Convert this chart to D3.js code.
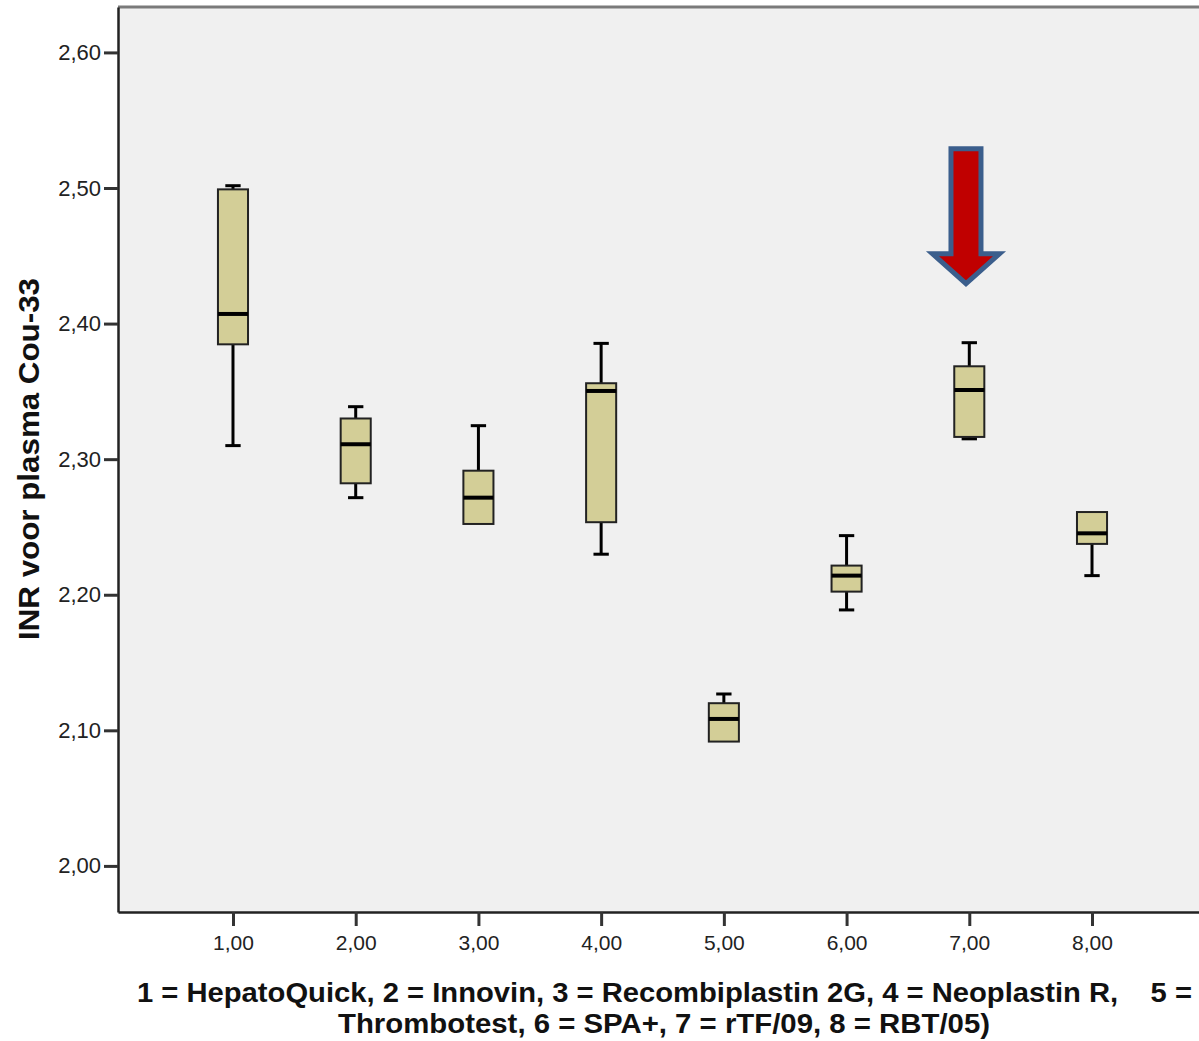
<!DOCTYPE html>
<html>
<head>
<meta charset="utf-8">
<script src="https://cdn.jsdelivr.net/npm/d3@7/dist/d3.min.js"></script>
<style>
  html, body { margin: 0; padding: 0; background: #ffffff; overflow: hidden; }
  svg { display: block; }
  .pre { white-space: pre; }
</style>
</head>
<body>
<svg id="chart" width="1199" height="1041"></svg>
<script>
// ---------------- data ----------------
const categories = [1, 2, 3, 4, 5, 6, 7, 8];
const minVals    = [2.310, 2.2716, 2.2522, 2.2299, 2.0917, 2.1888, 2.3150, 2.2141];
const q1Vals     = [2.3847, 2.2822, 2.2522, 2.2535, 2.0917, 2.2023, 2.3164, 2.2375];
const medianVals = [2.4071, 2.3110, 2.2716, 2.3503, 2.1084, 2.2141, 2.3510, 2.2453];
const q3Vals     = [2.4990, 2.3300, 2.2915, 2.3560, 2.1200, 2.2215, 2.3685, 2.2610];
const maxVals    = [2.5017, 2.3387, 2.3247, 2.3854, 2.1268, 2.2436, 2.3859, 2.2610];
const yTicks = [2.0, 2.1, 2.2, 2.3, 2.4, 2.5, 2.6];
const xTicks = [1, 2, 3, 4, 5, 6, 7, 8];
const yTitle = "INR voor plasma Cou-33";
const xTitleLines = [
  "1 = HepatoQuick, 2 = Innovin, 3 = Recombiplastin 2G, 4 = Neoplastin R,    5 =",
  "Thrombotest, 6 = SPA+, 7 = rTF/09, 8 = RBT/05)"
];
// annotation arrow (category, top value, head-base value, tip value)
const arrowCat = 6.973;
const arrowTop = 2.529, arrowHeadBase = 2.4515, arrowTip = 2.4295;

const boxes = categories.map((c, i) => ({
  cat: c, min: minVals[i], q1: q1Vals[i], med: medianVals[i], q3: q3Vals[i], max: maxVals[i]
}));

// ---------------- layout ----------------
const svg = d3.select("#chart");
const plot = { left: 118, right: 1207, top: 7, bottom: 912 };

const x = d3.scaleLinear().domain([0.063, 8.937]).range([plot.left, plot.right]);
const y = d3.scaleLinear().domain([1.966, 2.6335]).range([plot.bottom, plot.top]);
const step = x(2) - x(1);
const boxW = step * 0.245;
const capW = step * 0.125;
const fmt = v => d3.format(".2f")(v).replace(".", ",");

// plot background
svg.append("rect")
  .attr("x", plot.left).attr("y", plot.top)
  .attr("width", plot.right - plot.left).attr("height", plot.bottom - plot.top)
  .attr("fill", "#f0f0f0");

// top frame line
svg.append("line")
  .attr("x1", plot.left).attr("x2", plot.right)
  .attr("y1", plot.top).attr("y2", plot.top)
  .attr("stroke", "#7a7a7a").attr("stroke-width", 3);

// y axis
const yAxis = d3.axisLeft(y).tickValues(yTicks).tickFormat(fmt)
  .tickSizeInner(14).tickSizeOuter(0).tickPadding(3);
const gy = svg.append("g").attr("transform", `translate(${plot.left},0)`).call(yAxis);
gy.select(".domain").attr("stroke", "#222").attr("stroke-width", 2.5);
gy.selectAll(".tick line").attr("stroke", "#333").attr("stroke-width", 3);
gy.selectAll(".tick text")
  .attr("fill", "#222").attr("font-family", "Liberation Sans, Arial, sans-serif")
  .attr("font-size", 22);

// x axis
const xAxis = d3.axisBottom(x).tickValues(xTicks).tickFormat(fmt)
  .tickSizeInner(14).tickSizeOuter(0).tickPadding(9);
const gx = svg.append("g").attr("transform", `translate(0,${plot.bottom})`).call(xAxis);
gx.select(".domain").attr("stroke", "#222").attr("stroke-width", 2.5);
gx.selectAll(".tick line").attr("stroke", "#333").attr("stroke-width", 3);
gx.selectAll(".tick text")
  .attr("fill", "#222").attr("font-family", "Liberation Sans, Arial, sans-serif")
  .attr("font-size", 21);

// boxes
const g = svg.append("g");
const bx = g.selectAll("g.box").data(boxes).enter().append("g").attr("class", "box");

// whiskers
bx.filter(d => d.max > d.q3).append("line")
  .attr("x1", d => x(d.cat)).attr("x2", d => x(d.cat))
  .attr("y1", d => y(d.q3)).attr("y2", d => y(d.max))
  .attr("stroke", "#000").attr("stroke-width", 3);
bx.filter(d => d.max > d.q3).append("line")
  .attr("x1", d => x(d.cat) - capW / 2).attr("x2", d => x(d.cat) + capW / 2)
  .attr("y1", d => y(d.max)).attr("y2", d => y(d.max))
  .attr("stroke", "#000").attr("stroke-width", 3);
bx.filter(d => d.min < d.q1).append("line")
  .attr("x1", d => x(d.cat)).attr("x2", d => x(d.cat))
  .attr("y1", d => y(d.q1)).attr("y2", d => y(d.min))
  .attr("stroke", "#000").attr("stroke-width", 3);
bx.filter(d => d.min < d.q1).append("line")
  .attr("x1", d => x(d.cat) - capW / 2).attr("x2", d => x(d.cat) + capW / 2)
  .attr("y1", d => y(d.min)).attr("y2", d => y(d.min))
  .attr("stroke", "#000").attr("stroke-width", 3);

// box rects
bx.append("rect")
  .attr("x", d => x(d.cat) - boxW / 2)
  .attr("y", d => y(d.q3))
  .attr("width", boxW)
  .attr("height", d => y(d.q1) - y(d.q3))
  .attr("fill", "#d3ce97")
  .attr("stroke", "#222").attr("stroke-width", 2);

// medians
bx.append("line")
  .attr("x1", d => x(d.cat) - boxW / 2).attr("x2", d => x(d.cat) + boxW / 2)
  .attr("y1", d => y(d.med)).attr("y2", d => y(d.med))
  .attr("stroke", "#000").attr("stroke-width", 4);

// arrow annotation
const ax = x(arrowCat);
const shaftHalf = 15, headHalf = 33.5;
const arrowPath = d3.path();
arrowPath.moveTo(ax - shaftHalf, y(arrowTop));
arrowPath.lineTo(ax + shaftHalf, y(arrowTop));
arrowPath.lineTo(ax + shaftHalf, y(arrowHeadBase));
arrowPath.lineTo(ax + headHalf, y(arrowHeadBase));
arrowPath.lineTo(ax, y(arrowTip));
arrowPath.lineTo(ax - headHalf, y(arrowHeadBase));
arrowPath.lineTo(ax - shaftHalf, y(arrowHeadBase));
arrowPath.closePath();
svg.append("path")
  .attr("d", arrowPath.toString())
  .attr("fill", "#c00000")
  .attr("stroke", "#3b5e8c").attr("stroke-width", 5)
  .attr("stroke-linejoin", "miter");

// y title
svg.append("text")
  .attr("transform", `translate(39,${459}) rotate(-90)`)
  .attr("text-anchor", "middle")
  .attr("font-family", "Liberation Sans, Arial, sans-serif")
  .attr("font-weight", "bold").attr("font-size", 30)
  .attr("fill", "#111")
  .attr("textLength", 362).attr("lengthAdjust", "spacingAndGlyphs")
  .text(yTitle);

// x title
const xt = svg.append("text")
  .attr("class", "pre")
  .attr("xml:space", "preserve")
  .attr("font-family", "Liberation Sans Narrow, Arial Narrow, Liberation Sans, Arial, sans-serif")
  .attr("font-weight", "bold").attr("font-size", 27)
  .attr("fill", "#111");
xt.append("tspan")
  .attr("class", "pre")
  .attr("x", 137).attr("y", 1002)
  .attr("textLength", 1055).attr("lengthAdjust", "spacingAndGlyphs")
  .text(xTitleLines[0]);
xt.append("tspan")
  .attr("class", "pre")
  .attr("x", 338).attr("y", 1033)
  .attr("textLength", 652).attr("lengthAdjust", "spacingAndGlyphs")
  .text(xTitleLines[1]);
</script>
</body>
</html>
